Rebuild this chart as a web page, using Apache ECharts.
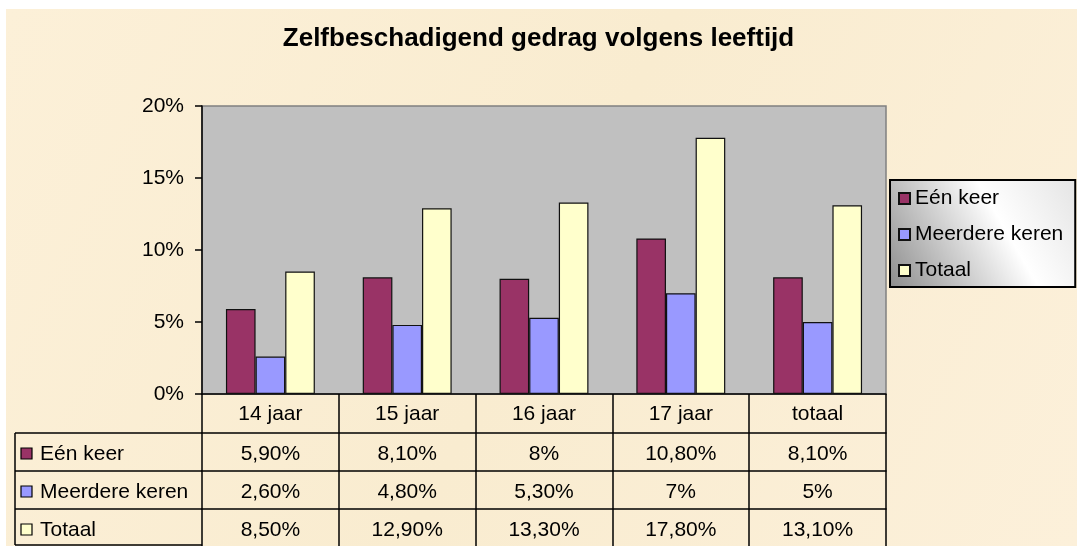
<!DOCTYPE html>
<html>
<head>
<meta charset="utf-8">
<script src="https://cdn.jsdelivr.net/npm/echarts@6/dist/echarts.min.js"></script>
<style>
  html, body { margin: 0; padding: 0; background: #fff; }
  #chart { width: 1077px; height: 546px; }
</style>
</head>
<body>
<div id="chart"></div>
<script>
// data
var categories = ['14 jaar', '15 jaar', '16 jaar', '17 jaar', 'totaal'];
var seriesNames = ['Eén keer', 'Meerdere keren', 'Totaal'];
var eenKeer = [5.9, 8.1, 8, 10.8, 8.1];
var meerdereKeren = [2.6, 4.8, 5.3, 7, 5];
var totaal = [8.5, 12.9, 13.3, 17.8, 13.1];
var seriesColors = ['#993366', '#9999ff', '#ffffcc'];

var FONT = '"Liberation Sans", Arial, sans-serif';
var allValues = [eenKeer, meerdereKeren, totaal];

// 5.9 -> "5,90%", 8 -> "8%"
function fmt(v) {
  if (Math.round(v) === v) return v + '%';
  return v.toFixed(2).replace('.', ',') + '%';
}

var chart = echarts.init(document.getElementById('chart'));

var rowTop = 394, headH = 39, rowH = 38;

function tableAxis(idx) {
  return {
    type: 'category',
    gridIndex: 0,
    position: 'bottom',
    offset: headH + idx * rowH,
    data: allValues[idx].map(fmt),
    axisLine: { show: true, lineStyle: { color: '#000', width: 1.5 } },
    axisTick: { show: true, length: rowH, lineStyle: { color: '#000', width: 1.5 } },
    axisLabel: { interval: 0, margin: 11, color: '#000', fontSize: 21, fontFamily: FONT }
  };
}

// left column of the data table (legend keys + names)
var leftGraphic = [];
seriesNames.forEach(function (name, i) {
  var top = rowTop + headH + i * rowH;
  leftGraphic.push({
    type: 'rect', shape: { x: 21, y: top + rowH / 2 - 4, width: 11, height: 11 },
    style: { fill: seriesColors[i], stroke: '#000', lineWidth: 1.2 }
  });
  leftGraphic.push({
    type: 'text', x: 40, y: top + rowH / 2 + 2,
    style: { text: name, fill: '#000', font: '21px ' + FONT, verticalAlign: 'middle' }
  });
  leftGraphic.push({
    type: 'line', shape: { x1: 15, y1: top, x2: 202, y2: top },
    style: { stroke: '#000', lineWidth: 1.5 }
  });
});
leftGraphic.push({
  type: 'line', shape: { x1: 15, y1: rowTop + headH, x2: 15, y2: 545 },
  style: { stroke: '#000', lineWidth: 1.5 }
});
leftGraphic.push({
  type: 'line', shape: { x1: 15, y1: 545, x2: 202, y2: 545 },
  style: { stroke: '#000', lineWidth: 1.5 }
});

var option = {
  backgroundColor: '#fff',
  animation: false,
  title: {
    text: 'Zelfbeschadigend gedrag volgens leeftijd',
    left: 'center',
    top: 21,
    textStyle: { fontFamily: FONT, fontSize: 26, fontWeight: 'bold', color: '#000' }
  },
  legend: {
    orient: 'vertical',
    left: 890,
    top: 180,
    padding: [7, 12, 5, 8],
    itemWidth: 11,
    itemHeight: 11,
    itemGap: 13,
    icon: 'rect',
    backgroundColor: new echarts.graphic.LinearGradient(0, 1, 1, 0, [
      { offset: 0, color: '#8c8c8c' },
      { offset: 0.6, color: '#ffffff' },
      { offset: 1, color: '#e4e4e4' }
    ]),
    borderColor: '#000',
    borderWidth: 2,
    textStyle: { fontFamily: FONT, fontSize: 21, color: '#000', lineHeight: 23 },
    data: seriesNames
  },
  grid: {
    left: 202, top: 106, right: 191, bottom: 152,
    show: true,
    backgroundColor: '#c0c0c0',
    borderColor: '#808080',
    borderWidth: 1.5
  },
  xAxis: [
    {
      type: 'category',
      data: categories,
      axisLine: { show: true, lineStyle: { color: '#000', width: 1.5 } },
      axisTick: { show: true, length: headH, lineStyle: { color: '#000', width: 1.5 } },
      axisLabel: { interval: 0, margin: 10, color: '#000', fontSize: 21, fontFamily: FONT }
    },
    tableAxis(0),
    tableAxis(1),
    tableAxis(2),
    {
      type: 'category',
      position: 'bottom',
      offset: headH + 3 * rowH,
      data: categories,
      axisLine: { show: true, lineStyle: { color: '#000', width: 1.5 } },
      axisTick: { show: false },
      axisLabel: { show: false }
    }
  ],
  yAxis: {
    type: 'value',
    min: 0,
    max: 20,
    interval: 5,
    axisLine: { show: true, lineStyle: { color: '#000', width: 1.5 } },
    axisTick: { show: true, length: 7, lineStyle: { color: '#000', width: 1.5 } },
    axisLabel: { formatter: '{value}%', margin: 18, color: '#000', fontSize: 21, fontFamily: FONT },
    splitLine: { show: false }
  },
  series: seriesNames.map(function (name, i) {
    return {
      name: name,
      type: 'bar',
      xAxisIndex: 0,
      data: allValues[i],
      barGap: '0%',
      barCategoryGap: '35%',
      itemStyle: { color: seriesColors[i], borderColor: '#111', borderWidth: 1.2 }
    };
  }),
  graphic: [
    {
      type: 'rect', z: -10, silent: true,
      shape: { x: 6, y: 9, width: 1071, height: 537 },
      style: {
        fill: new echarts.graphic.LinearGradient(0, 0, 1, 1, [
          { offset: 0, color: '#fcf0d8' },
          { offset: 0.5, color: '#f9ecd0' },
          { offset: 1, color: '#fcf0da' }
        ])
      }
    }
  ].concat(leftGraphic)
};

chart.setOption(option);
</script>
</body>
</html>
